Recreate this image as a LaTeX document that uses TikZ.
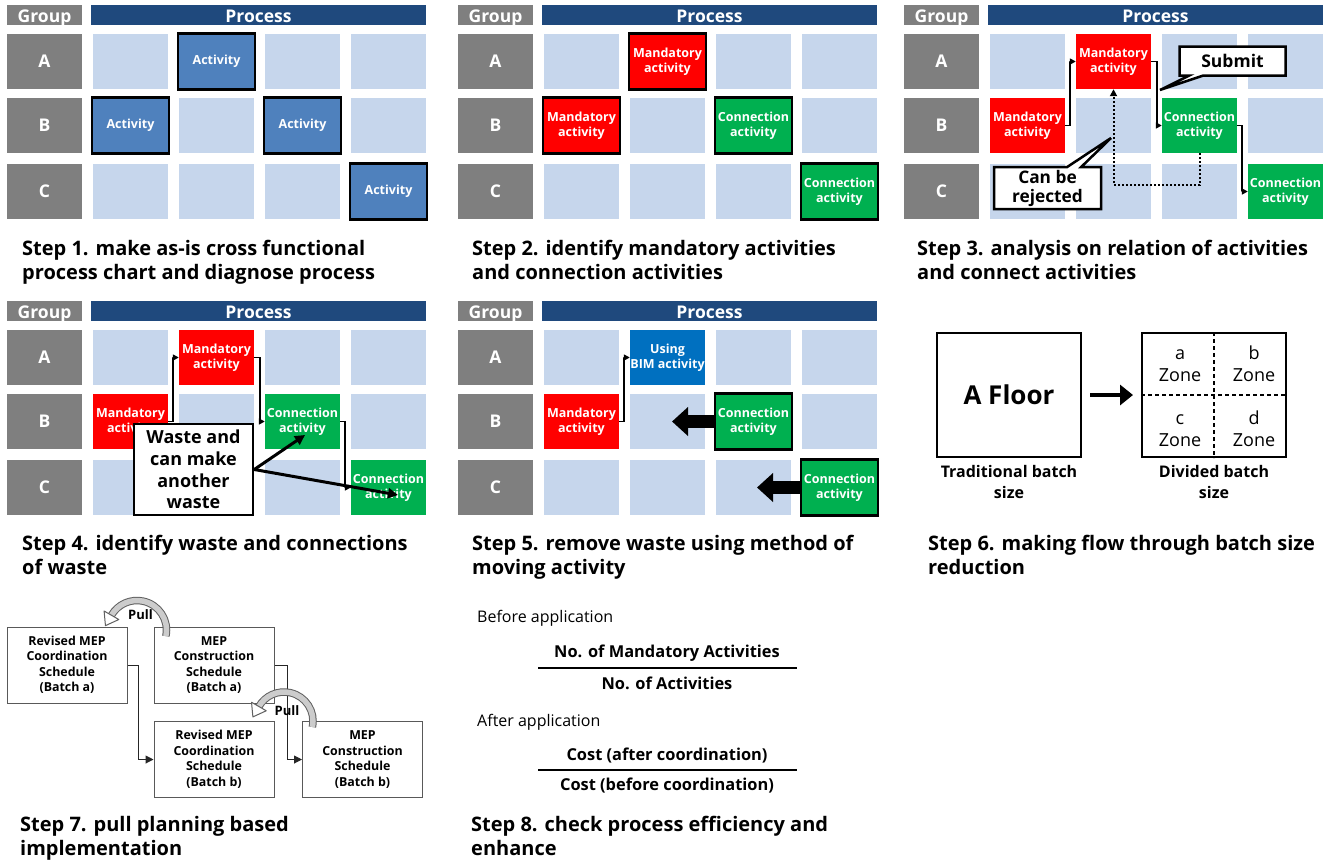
\documentclass[tikz,border=0pt]{standalone}
\usepackage{fontspec}
\setmainfont{Open Sans}
\usetikzlibrary{arrows.meta,shapes.callouts,calc}
\definecolor{cellblue}{HTML}{C6D6EC}
\definecolor{hdrblue}{HTML}{1F497D}
\definecolor{grpgray}{HTML}{7F7F7F}
\definecolor{actblue}{HTML}{4F81BD}
\definecolor{bimblue}{HTML}{0070C0}
\definecolor{mandred}{HTML}{FF0000}
\definecolor{conngreen}{HTML}{00B050}
\definecolor{boxline}{HTML}{595959}
\newcommand\swimgrid[3]{%
  \node[grp, minimum height=20pt, text height=15pt, text depth=0pt] (#1-g) at ({#2+37.5},{#3+10}) {Group};
  \node[hdr, text height=15pt, text depth=0pt] (#1-p) at ({#2+251.5},{#3+10}) {Process};
  \foreach \r/\ry in {A/56.5,B/120.5,C/186.5}{
    \node[grp, minimum height=55pt] (#1-\r) at ({#2+37.5},{#3+\ry}) {\r};
    \foreach \c in {1,...,4}{
      \node[cell] (#1-\r\c) at ({#2+123.5+86*(\c-1)},{#3+\ry}) {};
    }
  }
}
\newcommand\pullarc[2]{% center coordinate name, radius
  \draw[draw=gray!75!black, line width=7.5pt] ($(#1)+(12:#2)$) arc[start angle=12, end angle=-150, radius=#2];
  \draw[draw=gray!40, line width=5.5pt] ($(#1)+(11.8:#2)$) arc[start angle=11.8, end angle=-150.2, radius=#2];
  \filldraw[fill=white, draw=gray!75!black, line width=1pt, line join=round]
    ($(#1)+(-150:#2+8.5)$) -- ($(#1)+(-150:#2-8.5)$) -- ($(#1)+(-150:#2)+(-6,10.4)$) -- cycle;
}
\tikzset{
  grp/.style={fill=grpgray, text=white, font=\bfseries\fontsize{17.5}{20}\selectfont, inner sep=0, minimum width=75pt},
  hdr/.style={fill=hdrblue, text=white, font=\bfseries\fontsize{17.5}{20}\selectfont, inner sep=0, minimum width=335pt, minimum height=20pt},
  cell/.style={fill=cellblue, minimum width=75pt, minimum height=55pt, inner sep=0},
  act/.style={fill=#1, text=white, font=\bfseries\fontsize{12.5}{15.5}\selectfont, minimum width=75pt, minimum height=55pt, inner sep=0, align=center},
  actb/.style={act=#1, draw=black, line width=2.5pt, minimum width=77pt, minimum height=56pt},
  flow/.style={draw=black, line width=1.5pt, -{Triangle[length=6pt,width=6pt]}},
  callbox/.style={rectangle callout, draw=black, fill=white, line width=2.5pt, inner sep=0, callout pointer width=14pt, align=center, font=\bfseries\fontsize{17.5}{20}\selectfont},
  title/.style={anchor=base west, inner sep=0, font=\bfseries\fontsize{20}{24}\selectfont},
  block/.style={line width=13pt, -{Triangle[length=16pt,width=28pt]}},
  s7box/.style={draw=boxline, line width=1pt, minimum width=120pt, minimum height=76pt, align=center, font=\bfseries\fontsize{12.4}{15.5}\selectfont, inner sep=0},
  s7flow/.style={draw=black!85, line width=1pt, -{Triangle[length=8pt,width=8pt]}},
  pulltxt/.style={font=\bfseries\fontsize{13}{15}\selectfont, inner sep=0},
  fracline/.style={line width=1.5pt},
  s8reg/.style={anchor=west, inner sep=0, font=\fontsize{16}{19}\selectfont},
  s8bold/.style={inner sep=0, font=\bfseries\fontsize{16.4}{19}\selectfont},
  zone/.style={align=center, inner sep=0, font=\fontsize{18}{22}\selectfont},
}
\begin{document}
\begin{tikzpicture}[x=1pt,y=-1pt]
\useasboundingbox[fill=white] (0,0) rectangle (1335,860);

% ---------- Step 1
\swimgrid{p1}{7}{5}
\node[actb=actblue] (p1-x1) at (p1-A2) {Activity};
\node[actb=actblue] (p1-x2) at (p1-B1) {Activity};
\node[actb=actblue] (p1-x3) at (p1-B3) {Activity};
\node[actb=actblue] (p1-x4) at (p1-C4) {Activity};
\node[title] (t1a) at (22,255) {Step 1. make as-is cross functional};
\node[title] (t1b) at (22,279) {process chart and diagnose process};

% ---------- Step 2
\swimgrid{p2}{458}{5}
\node[actb=mandred] (p2-m1) at (p2-A2) {Mandatory\\activity};
\node[actb=mandred] (p2-m2) at (p2-B1) {Mandatory\\activity};
\node[actb=conngreen] (p2-c1) at (p2-B3) {Connection\\activity};
\node[actb=conngreen] (p2-c2) at (p2-C4) {Connection\\activity};
\node[title] (t2a) at (472,255) {Step 2. identify mandatory activities};
\node[title] (t2b) at (472,279) {and connection activities};

% ---------- Step 3
\swimgrid{p3}{904}{5}
\node[act=mandred] (p3-m1) at (p3-A2) {Mandatory\\activity};
\node[act=mandred] (p3-m2) at (p3-B1) {Mandatory\\activity};
\node[act=conngreen] (p3-c1) at (p3-B3) {Connection\\activity};
\node[act=conngreen] (p3-c2) at (p3-C4) {Connection\\activity};
\draw[flow] (p3-m2.east) -- ++(5,0) |- (p3-m1.west);
\draw[flow] (p3-m1.east) -- ++(6,0) |- (p3-c1.west);
\draw[flow] (p3-c1.east) -- ++(5,0) |- (p3-c2.west);
\draw[line width=2pt, dash pattern=on 2pt off 2pt, -{Triangle[length=7pt,width=7pt]}] (p3-c1.south) -- ++(0,32) -| (p3-m1.south);
\node[callbox, minimum width=106pt, minimum height=29pt, callout absolute pointer={(1160,90)}] (p3-sub) at (1232.5,61) {Submit};
\node[callbox, minimum width=107pt, minimum height=42pt, callout absolute pointer={(1111,138)}, font=\bfseries\fontsize{17.3}{19}\selectfont] (p3-rej) at (1047.5,188) {Can be\\rejected};
\node[title] (t3a) at (917,255) {Step 3. analysis on relation of activities};
\node[title] (t3b) at (917,279) {and connect activities};

% ---------- Step 4
\swimgrid{p4}{7}{301}
\node[act=mandred] (p4-m1) at (p4-A2) {Mandatory\\activity};
\node[act=mandred] (p4-m2) at (p4-B1) {Mandatory\\activity};
\node[act=conngreen] (p4-c1) at (p4-B3) {Connection\\activity};
\node[act=conngreen] (p4-c2) at (p4-C4) {Connection\\activity};
\draw[flow] (p4-m2.east) -- ++(5,0) |- (p4-m1.west);
\draw[flow] (p4-m1.east) -- ++(6,0) |- (p4-c1.west);
\draw[flow] (p4-c1.east) -- ++(5,0) |- (p4-c2.west);
\node[draw=black, fill=white, line width=2.5pt, minimum width=119pt, minimum height=91pt, align=center, inner sep=0, font=\bfseries\fontsize{18}{21.7}\selectfont] (p4-w) at (193.5,469.5) {Waste and\\can make\\another\\waste};
\coordinate (p4-t1) at (305,435);
\coordinate (p4-t2) at (398,495);
\draw[line width=3pt, -{Triangle[length=10pt,width=10pt]}] (p4-w.east) -- (p4-t1);
\draw[line width=3pt, -{Triangle[length=10pt,width=10pt]}] (p4-w.east) -- (p4-t2);
\node[title] (t4a) at (22,550) {Step 4. identify waste and connections};
\node[title] (t4b) at (22,574) {of waste};

% ---------- Step 5
\swimgrid{p5}{458}{301}
\node[act=bimblue] (p5-u) at (p5-A2) {Using\\BIM activity};
\node[act=mandred] (p5-m) at (p5-B1) {Mandatory\\activity};
\node[actb=conngreen] (p5-c1) at (p5-B3) {Connection\\activity};
\node[actb=conngreen] (p5-c2) at (p5-C4) {Connection\\activity};
\draw[flow] (p5-m.east) -- ++(5,0) |- (p5-u.west);
\coordinate (p5-t1) at (672,421.5);
\coordinate (p5-t2) at (757,487.5);
\draw[block] (p5-c1.west) -- (p5-t1);
\draw[block] (p5-c2.west) -- (p5-t2);
\node[title] (t5a) at (472,550) {Step 5. remove waste using method of};
\node[title] (t5b) at (472,574) {moving activity};

% ---------- Step 6
\node[draw=black, line width=2pt, minimum width=144pt, minimum height=124pt, font=\bfseries\fontsize{26}{30}\selectfont] (p6-f) at (1009,395) {A Floor};
\node[draw=black, line width=2pt, minimum width=144pt, minimum height=124pt] (p6-d) at (1214,395) {};
\draw[line width=1.5pt, dash pattern=on 4pt off 3pt] (p6-d.north) -- (p6-d.south);
\draw[line width=1.5pt, dash pattern=on 4pt off 3pt] (p6-d.west) -- (p6-d.east);
\node[zone] (p6-za) at (1180,364) {\vphantom{bd}a\\Zone};
\node[zone] (p6-zb) at (1254,364) {\vphantom{bd}b\\Zone};
\node[zone] (p6-zc) at (1180,429) {\vphantom{bd}c\\Zone};
\node[zone] (p6-zd) at (1254,429) {\vphantom{bd}d\\Zone};
\draw[line width=4pt, -{Triangle[length=13pt,width=20pt]}] ([xshift=8pt]p6-f.east) -- ([xshift=-8pt]p6-d.west);
\node[align=center, inner sep=0, font=\bfseries\fontsize{16}{21}\selectfont] (p6-lf) at (1009,482) {Traditional batch\\size};
\node[align=center, inner sep=0, font=\bfseries\fontsize{16}{21}\selectfont] (p6-ld) at (1214,482) {Divided batch\\size};
\node[title] (t6a) at (928,550) {Step 6. making flow through batch size};
\node[title] (t6b) at (928,574) {reduction};

% ---------- Step 7
\node[s7box] (p7-b1) at (67,665) {Revised MEP\\Coordination\\Schedule\\(Batch a)};
\node[s7box] (p7-b2) at (214,665) {MEP\\Construction\\Schedule\\(Batch a)};
\node[s7box] (p7-b3) at (214,759.5) {Revised MEP\\Coordination\\Schedule\\(Batch b)};
\node[s7box] (p7-b4) at (362.5,759.5) {MEP\\Construction\\Schedule\\(Batch b)};
\draw[s7flow] (p7-b1.east) -- ++(11,0) |- (p7-b3.west);
\draw[s7flow] (p7-b2.east) -- ++(13,0) |- (p7-b4.west);
\coordinate (p7-c1) at (137,630);
\coordinate (p7-c2) at (284,721);
\pullarc{p7-c1}{29.5}
\pullarc{p7-c2}{29}
\node[pulltxt] (p7-pl1) at (140.5,615) {Pull};
\node[pulltxt] (p7-pl2) at (287,711) {Pull};
\node[title] (t7a) at (20,831) {Step 7. pull planning based};
\node[title] (t7b) at (20,855) {implementation};

% ---------- Step 8
\node[s8reg] (p8-ba) at (477,618) {Before application};
\node[s8bold] (p8-n1) at (667,653) {No. of Mandatory Activities};
\draw[fracline] (538,668) -- (797,668);
\node[s8bold] (p8-d1) at (667,683) {No. of Activities};
\node[s8reg] (p8-aa) at (477,722) {After application};
\node[s8bold] (p8-n2) at (667,756) {Cost (after coordination)};
\draw[fracline] (538,770) -- (797,770);
\node[s8bold] (p8-d2) at (667,786) {Cost (before coordination)};
\node[title] (t8a) at (471,831) {Step 8. check process efficiency and};
\node[title] (t8b) at (471,855) {enhance};
\end{tikzpicture}
\end{document}
